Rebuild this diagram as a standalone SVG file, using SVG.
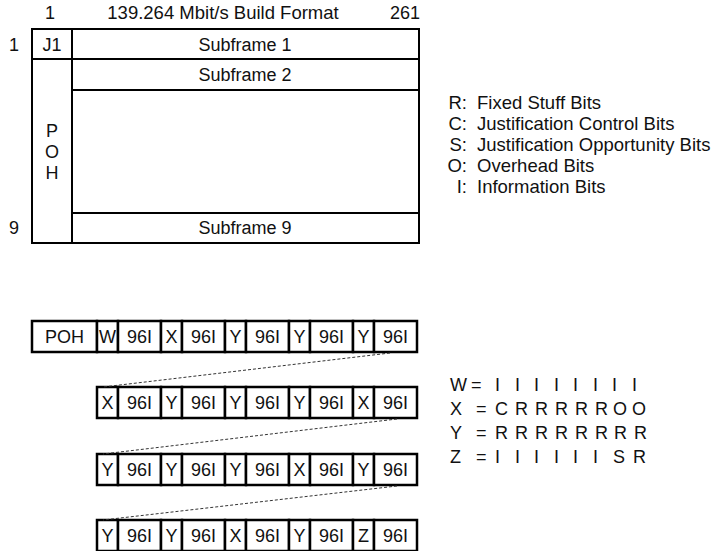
<svg xmlns="http://www.w3.org/2000/svg" width="713" height="551" viewBox="0 0 713 551">
<style>
text{font-family:"Liberation Sans",Arial,sans-serif;font-size:18px;fill:#111}
.t{font-size:18.5px}
.c{text-anchor:middle}
.e{text-anchor:end}
.box{fill:#fff;stroke:#000;stroke-width:2}
.cell{fill:#fff;stroke:#000;stroke-width:2.5}
.ln{stroke:#000;stroke-width:2;fill:none}
.dash{stroke:#333;stroke-width:1;stroke-dasharray:3 2;fill:none}
</style>
<rect width="713" height="551" fill="#fff"/>
<g id="header">
<text class="c" x="50" y="19">1</text>
<text class="c t" x="223" y="19">139.264 Mbit/s Build Format</text>
<text class="c" x="405" y="19">261</text>
<text class="c" x="14" y="51">1</text>
<text class="c" x="14" y="234">9</text>
</g>
<g id="frame">
<rect class="box" x="32" y="29" width="387" height="214"/>
<line class="ln" x1="72" y1="29" x2="72" y2="243"/>
<line class="ln" x1="32" y1="59" x2="72" y2="59" stroke-width="3"/>
<line class="ln" x1="72" y1="59" x2="419" y2="59"/>
<line class="ln" x1="72" y1="90" x2="419" y2="90"/>
<line class="ln" x1="72" y1="213" x2="419" y2="213"/>
<text class="c" x="52" y="51">J1</text>
<text class="c" x="245" y="51">Subframe 1</text>
<text class="c" x="245" y="81">Subframe 2</text>
<text class="c" x="245" y="234">Subframe 9</text>
<text class="c" x="52" y="137">P</text>
<text class="c" x="52" y="158">O</text>
<text class="c" x="52" y="179">H</text>
</g>
<g id="legend">
<text class="e t" x="467" y="109">R:</text><text class="t" x="477" y="109">Fixed Stuff Bits</text>
<text class="e t" x="467" y="130">C:</text><text class="t" x="477" y="130">Justification Control Bits</text>
<text class="e t" x="467" y="151">S:</text><text class="t" x="477" y="151">Justification Opportunity Bits</text>
<text class="e t" x="467" y="172">O:</text><text class="t" x="477" y="172">Overhead Bits</text>
<text class="e t" x="467" y="193">I:</text><text class="t" x="477" y="193">Information Bits</text>
</g>
<g id="row1">
<rect class="cell" x="32" y="321" width="65" height="31"/>
<rect class="cell" x="97" y="321" width="21" height="31"/>
<rect class="cell" x="118" y="321" width="43" height="31"/>
<rect class="cell" x="161" y="321" width="21" height="31"/>
<rect class="cell" x="182" y="321" width="43" height="31"/>
<rect class="cell" x="225" y="321" width="21" height="31"/>
<rect class="cell" x="246" y="321" width="43" height="31"/>
<rect class="cell" x="289" y="321" width="21" height="31"/>
<rect class="cell" x="310" y="321" width="43" height="31"/>
<rect class="cell" x="353" y="321" width="21" height="31"/>
<rect class="cell" x="374" y="321" width="43" height="31"/>
<text class="c" x="64.5" y="343">POH</text>
<text class="c" x="107.5" y="343">W</text><text class="c" x="139.5" y="343">96I</text>
<text class="c" x="171.5" y="343">X</text><text class="c" x="203.5" y="343">96I</text>
<text class="c" x="235.5" y="343">Y</text><text class="c" x="267.5" y="343">96I</text>
<text class="c" x="299.5" y="343">Y</text><text class="c" x="331.5" y="343">96I</text>
<text class="c" x="363.5" y="343">Y</text><text class="c" x="395.5" y="343">96I</text>
</g>
<g id="row2">
<rect class="cell" x="97" y="387" width="21" height="31"/>
<rect class="cell" x="118" y="387" width="43" height="31"/>
<rect class="cell" x="161" y="387" width="21" height="31"/>
<rect class="cell" x="182" y="387" width="43" height="31"/>
<rect class="cell" x="225" y="387" width="21" height="31"/>
<rect class="cell" x="246" y="387" width="43" height="31"/>
<rect class="cell" x="289" y="387" width="21" height="31"/>
<rect class="cell" x="310" y="387" width="43" height="31"/>
<rect class="cell" x="353" y="387" width="21" height="31"/>
<rect class="cell" x="374" y="387" width="43" height="31"/>
<text class="c" x="107.5" y="409">X</text><text class="c" x="139.5" y="409">96I</text>
<text class="c" x="171.5" y="409">Y</text><text class="c" x="203.5" y="409">96I</text>
<text class="c" x="235.5" y="409">Y</text><text class="c" x="267.5" y="409">96I</text>
<text class="c" x="299.5" y="409">Y</text><text class="c" x="331.5" y="409">96I</text>
<text class="c" x="363.5" y="409">X</text><text class="c" x="395.5" y="409">96I</text>
</g>
<g id="row3">
<rect class="cell" x="97" y="454" width="21" height="31"/>
<rect class="cell" x="118" y="454" width="43" height="31"/>
<rect class="cell" x="161" y="454" width="21" height="31"/>
<rect class="cell" x="182" y="454" width="43" height="31"/>
<rect class="cell" x="225" y="454" width="21" height="31"/>
<rect class="cell" x="246" y="454" width="43" height="31"/>
<rect class="cell" x="289" y="454" width="21" height="31"/>
<rect class="cell" x="310" y="454" width="43" height="31"/>
<rect class="cell" x="353" y="454" width="21" height="31"/>
<rect class="cell" x="374" y="454" width="43" height="31"/>
<text class="c" x="107.5" y="476">Y</text><text class="c" x="139.5" y="476">96I</text>
<text class="c" x="171.5" y="476">Y</text><text class="c" x="203.5" y="476">96I</text>
<text class="c" x="235.5" y="476">Y</text><text class="c" x="267.5" y="476">96I</text>
<text class="c" x="299.5" y="476">X</text><text class="c" x="331.5" y="476">96I</text>
<text class="c" x="363.5" y="476">Y</text><text class="c" x="395.5" y="476">96I</text>
</g>
<g id="row4">
<rect class="cell" x="97" y="520" width="21" height="31"/>
<rect class="cell" x="118" y="520" width="43" height="31"/>
<rect class="cell" x="161" y="520" width="21" height="31"/>
<rect class="cell" x="182" y="520" width="43" height="31"/>
<rect class="cell" x="225" y="520" width="21" height="31"/>
<rect class="cell" x="246" y="520" width="43" height="31"/>
<rect class="cell" x="289" y="520" width="21" height="31"/>
<rect class="cell" x="310" y="520" width="43" height="31"/>
<rect class="cell" x="353" y="520" width="21" height="31"/>
<rect class="cell" x="374" y="520" width="43" height="31"/>
<text class="c" x="107.5" y="542">Y</text><text class="c" x="139.5" y="542">96I</text>
<text class="c" x="171.5" y="542">Y</text><text class="c" x="203.5" y="542">96I</text>
<text class="c" x="235.5" y="542">X</text><text class="c" x="267.5" y="542">96I</text>
<text class="c" x="299.5" y="542">Y</text><text class="c" x="331.5" y="542">96I</text>
<text class="c" x="363.5" y="542">Z</text><text class="c" x="395.5" y="542">96I</text>
</g>
<g id="connectors">
<line class="dash" x1="390" y1="353" x2="103" y2="387"/>
<line class="dash" x1="397" y1="419" x2="103" y2="454"/>
<line class="dash" x1="397" y1="486" x2="103" y2="520"/>
</g>
<g id="codes">
<text x="450" y="391">W</text><text x="471" y="391">=</text>
<text x="495 505 515 525 534 544 554 564 573 583 593 603 612 622 632" y="391">I I I I I I I I</text>
<text x="450" y="415">X</text><text x="476" y="415">=</text>
<text x="495 505 515 525 535 545 555 565 575 585 595 604 613 623 632" y="415">C R R R R R O O</text>
<text x="450" y="439">Y</text><text x="476" y="439">=</text>
<text x="495 505 515 525 535 545 555 565 575 585 595 604 614 624 634" y="439">R R R R R R R R</text>
<text x="450" y="463">Z</text><text x="476" y="463">=</text>
<text x="495 505 515 525 534 544 554 564 573 583 593 603 613 623 633" y="463">I I I I I I S R</text>
</g>
</svg>
